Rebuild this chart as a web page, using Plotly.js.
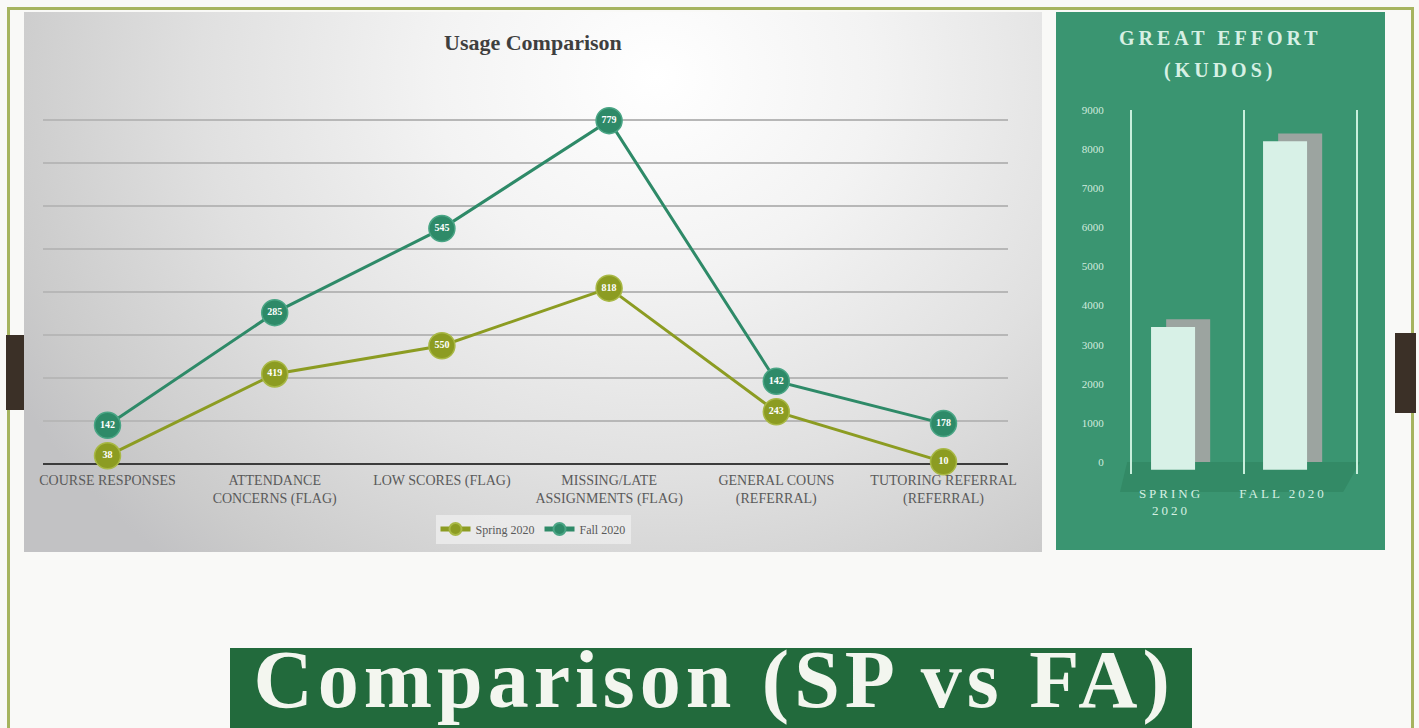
<!DOCTYPE html>
<html>
<head>
<meta charset="utf-8">
<script src="https://cdn.plot.ly/plotly-3.0.1.min.js"></script>
<style>
  body { margin: 0; background: #f8f8f6; }
  #wrap { position: relative; width: 1419px; height: 728px; overflow: hidden; background: #f9f9f7; }
  .blk { position: absolute; }
  g.annotation[data-index="1"] text, g.annotation[data-index="2"] text { letter-spacing: 4px; }
  g.annotation[data-index="3"] text { letter-spacing: 5px; }
  g.x2tick text { letter-spacing: 3px; }
</style>
</head>
<body>
<div id="wrap">
  <!-- olive frame -->
  <div class="blk" style="left:7px;top:7px;width:1407px;height:3px;background:#a6b45f;"></div>
  <div class="blk" style="left:7px;top:7px;width:3px;height:721px;background:#a6b45f;"></div>
  <div class="blk" style="left:1411px;top:7px;width:3px;height:721px;background:#a6b45f;"></div>
  <!-- left panel gradient -->
  <div class="blk" style="left:24px;top:12px;width:1018px;height:540px;
       background: radial-gradient(ellipse 72% 120% at 62% 12%, #ffffff 0%, #f3f3f3 30%, #e0e0e0 62%, #cbcbcb 90%, #c2c2c4 100%);"></div>
  <!-- right green panel -->
  <div class="blk" style="left:1056px;top:12px;width:329px;height:538px;background:#3a9571;"></div>
  <!-- 3D floor under bars -->
  <div class="blk" style="left:1120px;top:462px;width:240px;height:30px;background:#338a66;
       clip-path: polygon(3% 0, 100% 0, 93% 100%, 0 100%);"></div>
  <!-- bottom banner -->
  <div class="blk" style="left:230px;top:648px;width:962px;height:80px;background:#226a3c;"></div>
  <!-- dark tabs -->
  <div class="blk" style="left:6px;top:335px;width:18px;height:75px;background:#3b3027;"></div>
  <div class="blk" style="left:1395px;top:333px;width:21px;height:80px;background:#3b3027;"></div>
  <div id="chart" class="blk" style="left:0;top:0;width:1419px;height:728px;"></div>
</div>
<script>
// ---- data ----
const categories = [
  'COURSE RESPONSES',
  'ATTENDANCE<br>CONCERNS (FLAG)',
  'LOW SCORES (FLAG)',
  'MISSING/LATE<br>ASSIGNMENTS (FLAG)',
  'GENERAL COUNS<br>(REFERRAL)',
  'TUTORING REFERRAL<br>(REFERRAL)'
];
const spring2020 = [38, 419, 550, 818, 243, 10];
const fall2020 = [142, 285, 545, 779, 142, 178];
const seriesNames = ['Spring 2020', 'Fall 2020'];

const kudosTerms = ['SPRING<br>2020', 'FALL 2020'];
const kudosValues = [3650, 8400];

// ---- styles ----
const SERIF = 'Liberation Serif, Times New Roman, serif';
const SPRING_COLOR = '#8c9c22';
const FALL_COLOR = '#2e8a68';
const DEPTH = 200; // 3D depth offset for bar front face (style only)

const W = 1419, H = 728;
const px = v => v / W;
const py = v => 1 - v / H;

function lineTrace(name, values, color, ring) {
  return {
    type: 'scatter', mode: 'lines+markers', name: name,
    x: categories, y: values,
    stackgroup: 'usage', fill: 'none', cliponaxis: false,
    line: { color: color, width: 3 },
    marker: { size: 26, color: color, line: { color: ring, width: 1.5 } },
    xaxis: 'x', yaxis: 'y', hoverinfo: 'skip'
  };
}
function labelTrace(values) {
  return {
    type: 'scatter', mode: 'text', showlegend: false,
    x: categories, y: values, text: values.map(String),
    stackgroup: 'usageLabels', fill: 'none', cliponaxis: false,
    textposition: 'middle center',
    textfont: { family: SERIF, size: 10, color: '#ffffff', weight: 700 },
    xaxis: 'x', yaxis: 'y', hoverinfo: 'skip'
  };
}

const traces = [
  lineTrace(seriesNames[0], spring2020, SPRING_COLOR, '#a8b845'),
  lineTrace(seriesNames[1], fall2020, FALL_COLOR, '#4aa585'),
  labelTrace(spring2020),
  labelTrace(fall2020),
  {
    type: 'bar', x: kudosTerms, y: kudosValues, base: kudosValues.map(() => 0),
    offset: -0.195, width: 0.393,
    marker: { color: '#9ca4a0' },
    xaxis: 'x2', yaxis: 'y2', showlegend: false, hoverinfo: 'skip'
  },
  {
    type: 'bar', x: kudosTerms, y: kudosValues, base: kudosValues.map(() => -DEPTH),
    offset: -0.33, width: 0.393,
    marker: { color: '#d8f1e7' },
    xaxis: 'x2', yaxis: 'y2', showlegend: false, hoverinfo: 'skip'
  }
];

const layout = {
  width: W, height: H,
  margin: { l: 0, r: 0, t: 0, b: 0 },
  paper_bgcolor: 'rgba(0,0,0,0)',
  plot_bgcolor: 'rgba(0,0,0,0)',
  barmode: 'overlay',
  showlegend: true,
  legend: {
    orientation: 'h', traceorder: 'normal', itemsizing: 'constant',
    x: px(533), y: py(529), xanchor: 'center', yanchor: 'middle',
    bgcolor: 'rgba(236,236,236,0.85)',
    font: { family: SERIF, size: 12, color: '#595959' }
  },
  xaxis: {
    domain: [px(43), px(1008)], type: 'category', anchor: 'y',
    showgrid: false, zeroline: false, showline: false, ticks: '',
    tickfont: { family: SERIF, size: 14, color: '#5a5a5a' },
    ticklabelstandoff: 6, fixedrange: true
  },
  yaxis: {
    domain: [py(464), py(77)], range: [0, 1800], dtick: 200, tick0: 0,
    anchor: 'x', showticklabels: false, ticks: '',
    showgrid: true, gridcolor: '#b7b7b7', gridwidth: 2,
    zeroline: true, zerolinecolor: '#3c3c3c', zerolinewidth: 2.5,
    fixedrange: true
  },
  xaxis2: {
    domain: [px(1132), px(1356)], type: 'category', anchor: 'y2',
    tickson: 'boundaries', showgrid: true, gridcolor: '#c8efdc', gridwidth: 2,
    ticks: '', showline: false, zeroline: false,
    tickfont: { family: SERIF, size: 13, color: '#d6f0e3' },
    ticklabelshift: -17, ticklabelstandoff: 10, fixedrange: true
  },
  yaxis2: {
    domain: [py(473.73), py(110)], range: [-300, 9000], dtick: 1000, tick0: 0,
    anchor: 'x2', showgrid: false, zeroline: false,
    showline: true, mirror: true, linecolor: '#c8efdc', linewidth: 2, ticks: '',
    tickfont: { family: SERIF, size: 11, color: '#d0ebde' },
    ticklabelstandoff: 24, fixedrange: true
  },
  annotations: [
    { text: '<b>Usage Comparison</b>', xref: 'paper', yref: 'paper', x: px(533), y: py(42),
      xanchor: 'center', yanchor: 'middle', showarrow: false,
      font: { family: SERIF, size: 22, color: '#3f3f3f' } },
    { text: '<b>GREAT EFFORT</b>', xref: 'paper', yref: 'paper', x: px(1220), y: py(38),
      xanchor: 'center', yanchor: 'middle', showarrow: false,
      font: { family: SERIF, size: 20, color: '#d7f0e4' } },
    { text: '<b>(KUDOS)</b>', xref: 'paper', yref: 'paper', x: px(1220), y: py(70),
      xanchor: 'center', yanchor: 'middle', showarrow: false,
      font: { family: SERIF, size: 20, color: '#d7f0e4' } },
    { text: '<b>Comparison (SP vs FA)</b>', xref: 'paper', yref: 'paper', x: px(714), y: py(679),
      xanchor: 'center', yanchor: 'middle', showarrow: false,
      font: { family: SERIF, size: 82, color: '#f3f6ef' } }
  ]
};

Plotly.newPlot('chart', traces, layout, { displayModeBar: false, staticPlot: true });
</script>
</body>
</html>
